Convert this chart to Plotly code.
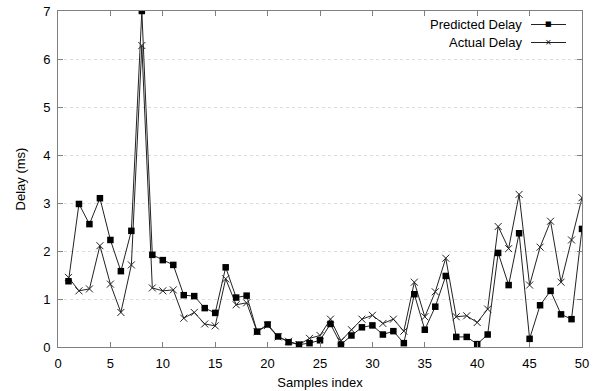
import plotly.graph_objects as go

samples = list(range(1, 51))
predicted = [1.37, 2.98, 2.56, 3.10, 2.23, 1.58, 2.42, 7.00, 1.92, 1.81,
             1.71, 1.08, 1.06, 0.81, 0.71, 1.66, 1.03, 1.07, 0.32, 0.47,
             0.22, 0.10, 0.05, 0.08, 0.14, 0.48, 0.05, 0.24, 0.41, 0.45,
             0.26, 0.33, 0.08, 1.10, 0.36, 0.84, 1.48, 0.21, 0.21, 0.06,
             0.26, 1.96, 1.29, 2.37, 0.17, 0.87, 1.17, 0.68, 0.58, 2.46]
actual = [1.45, 1.17, 1.21, 2.11, 1.31, 0.72, 1.71, 6.28, 1.23, 1.17,
          1.19, 0.60, 0.72, 0.48, 0.44, 1.42, 0.88, 0.92, 0.32, 0.45,
          0.21, 0.12, 0.05, 0.18, 0.24, 0.58, 0.13, 0.36, 0.58, 0.66,
          0.49, 0.58, 0.33, 1.35, 0.63, 1.15, 1.85, 0.63, 0.65, 0.51,
          0.79, 2.51, 2.05, 3.18, 1.29, 2.08, 2.62, 1.35, 2.23, 3.11]
x_ticks = list(range(0, 51, 5))
y_ticks = list(range(0, 8))

FONT = "Liberation Sans, Arial, sans-serif"

fig = go.Figure()
fig.add_trace(go.Scatter(
    x=samples, y=actual, mode="lines+markers", name="Actual Delay",
    line=dict(color="#222222", width=1),
    marker=dict(symbol="x-thin-open", size=7, line=dict(color="#222222", width=1)),
    showlegend=False))
fig.add_trace(go.Scatter(
    x=samples, y=predicted, mode="lines+markers", name="Predicted Delay",
    line=dict(color="#222222", width=1),
    marker=dict(symbol="square", size=6.5, color="#000000"),
    showlegend=False))

# custom gnuplot-style legend (text on the left, sample on the right)
legend_items = [("Predicted Delay", "■", 7), ("Actual Delay", "×", 8)]
for i, (label, glyph, gs) in enumerate(legend_items):
    yp = 1 - (13.5 + 18 * i) / 336
    fig.add_annotation(xref="paper", yref="paper", x=(524 - 58) / 524, y=yp,
                       text=label, showarrow=False, xanchor="right", yanchor="middle",
                       font=dict(family=FONT, size=13, color="#000"))
    fig.add_shape(type="line", xref="paper", yref="paper",
                  x0=(531 - 58) / 524, x1=(566 - 58) / 524, y0=yp, y1=yp,
                  line=dict(color="#222222", width=1))
    fig.add_annotation(xref="paper", yref="paper", x=(548.5 - 58) / 524, y=yp,
                       text=glyph, showarrow=False, xanchor="center", yanchor="middle",
                       font=dict(family="DejaVu Sans", size=gs, color="#000"))

fig.update_layout(
    width=600, height=391,
    margin=dict(l=58, r=18, t=11, b=44),
    paper_bgcolor="white", plot_bgcolor="white",
    font=dict(family=FONT, size=13, color="#000"),
    showlegend=False,
)
fig.update_xaxes(
    range=[0, 50], tickvals=x_ticks, ticks="inside", ticklen=5, tickcolor="#808080",
    showline=True, linecolor="#808080", linewidth=1, mirror="ticks",
    showgrid=False, zeroline=False, ticklabelstandoff=4, automargin=False,
    title=dict(text="Samples index", font=dict(size=13), standoff=8),
)
fig.update_yaxes(
    range=[0, 7], tickvals=y_ticks, ticks="inside", ticklen=5, tickcolor="#808080",
    showline=True, linecolor="#808080", linewidth=1, mirror="ticks",
    showgrid=True, gridcolor="#dcdcdc", griddash="dot", gridwidth=1, zeroline=False,
    ticklabelstandoff=4, automargin=False,
    title=dict(text="Delay (ms)", font=dict(size=13), standoff=14),
)

fig.write_html("out.html")
